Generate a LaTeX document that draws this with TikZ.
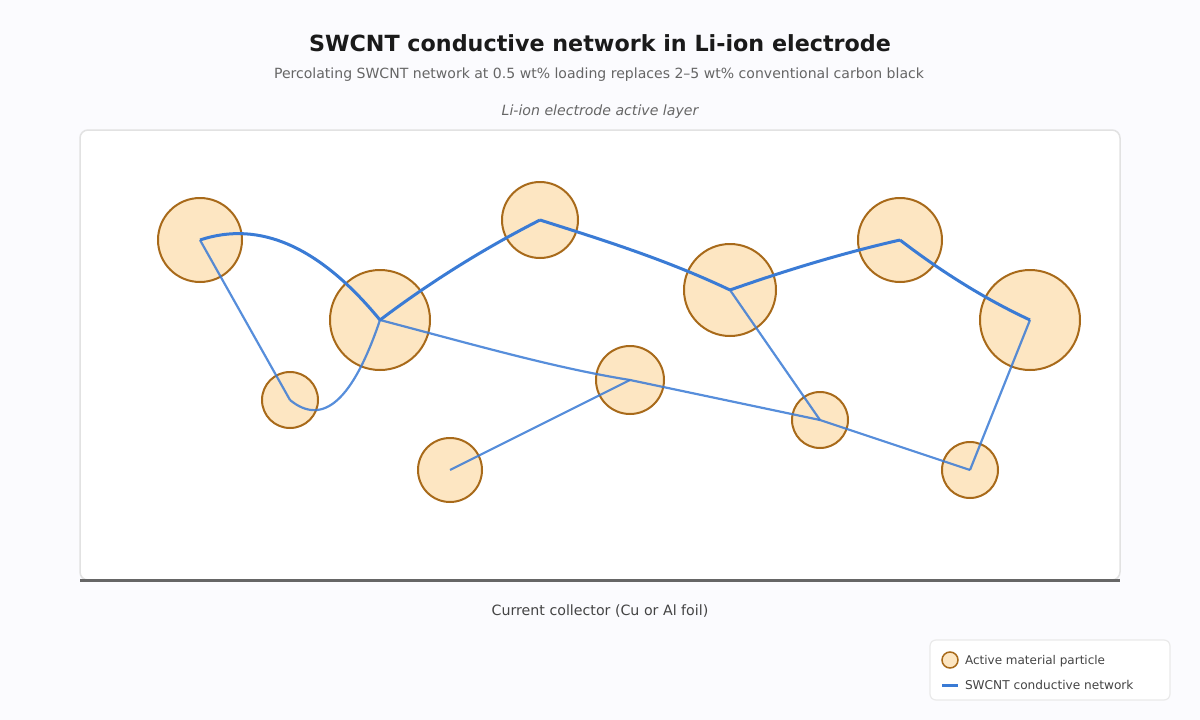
\documentclass[tikz,border=0pt]{standalone}
\usepackage{fontspec}
\setmainfont{DejaVu Sans}
\definecolor{pagebg}{HTML}{FBFBFE}
\definecolor{panelline}{HTML}{E2E2E2}
\definecolor{legendline}{HTML}{EAEAEA}
\definecolor{collector}{HTML}{666666}
\definecolor{partfill}{HTML}{FDE6C2}
\definecolor{partline}{HTML}{A86A1A}
\definecolor{tubeblue}{HTML}{3A7BD5}
\definecolor{titletext}{HTML}{1A1A1A}
\definecolor{softtext}{HTML}{666666}
\definecolor{darktext}{HTML}{444444}
\tikzset{
  particle/.style={circle, draw=partline, fill=partfill, line width=2pt, inner sep=0pt, outer sep=0pt},
  tubethick/.style={draw=tubeblue, line width=3pt, line join=round},
  tubethin/.style={draw=tubeblue, line width=2.2pt, opacity=0.85, line join=round},
  label/.style={anchor=base, inner sep=0pt, outer sep=0pt},
}
\begin{document}
\begin{tikzpicture}[x=1pt,y=-1pt]
\useasboundingbox (0,0) rectangle (1200,720);
\fill [pagebg] (0,0) rectangle (1200,720);
\node [label, text=titletext, font=\fontsize{22.25}{26}\selectfont\bfseries] (title) at (600,51) {SWCNT conductive network in Li-ion electrode};
\node [label, text=softtext, font=\fontsize{14.05}{17}\selectfont] (subtitle) at (599,78) {Percolating SWCNT network at 0.5 wt\% loading replaces 2–5 wt\% conventional carbon black};
\node [label, text=softtext, font=\fontsize{14.1}{17}\selectfont\itshape] (layername) at (600,115) {Li-ion electrode active layer};
\draw [panelline, fill=white, line width=1.5pt, rounded corners=8pt] (80,130) rectangle (1120,580);
\coordinate (foilleft) at (80,580);
\coordinate (foilright) at (1120,580);
\draw [collector, line width=3pt] (foilleft) -- (foilright);
\node [label, text=darktext, font=\fontsize{14.2}{17}\selectfont] (foilname) at (600,615) {Current collector (Cu or Al foil)};
% particles
\node [particle, minimum size=84pt] (p1) at (200,240) {};
\node [particle, minimum size=100pt] (p2) at (380,320) {};
\node [particle, minimum size=76pt] (p3) at (540,220) {};
\node [particle, minimum size=92pt] (p4) at (730,290) {};
\node [particle, minimum size=84pt] (p5) at (900,240) {};
\node [particle, minimum size=100pt] (p6) at (1030,320) {};
\node [particle, minimum size=56pt] (p7) at (290,400) {};
\node [particle, minimum size=64pt] (p8) at (450,470) {};
\node [particle, minimum size=68pt] (p9) at (630,380) {};
\node [particle, minimum size=56pt] (p10) at (820,420) {};
\node [particle, minimum size=56pt] (p11) at (970,470) {};
% main tubes
\draw [tubethick] (p1.center) .. controls (260,220) and (320,247) .. (p2.center);
\draw [tubethick] (p2.center) .. controls (433,280) and (487,247) .. (p3.center);
\draw [tubethick] (p3.center) .. controls (603,240) and (667,260) .. (p4.center);
\draw [tubethick] (p4.center) .. controls (787,270) and (843,253) .. (p5.center);
\draw [tubethick] (p5.center) .. controls (943,273) and (987,300) .. (p6.center);
% side tubes
\draw [tubethin] (p1.center) -- (p7.center);
\draw [tubethin] (p7.center) .. controls (323,427) and (353,400) .. (p2.center);
\draw [tubethin] (p2.center) .. controls (475,345) and (555,368) .. (p9.center);
\draw [tubethin] (p9.center) -- (p10.center);
\draw [tubethin] (p8.center) -- (p9.center);
\draw [tubethin] (p4.center) -- (p10.center);
\draw [tubethin] (p10.center) -- (p11.center);
\draw [tubethin] (p11.center) -- (p6.center);
% legend
\draw [legendline, fill=white, line width=1.2pt, rounded corners=6pt] (930,640) rectangle (1170,700);
\node [particle, minimum size=16pt, line width=1.5pt] (keypart) at (950,660) {};
\node [label, anchor=base west, text=darktext, font=\fontsize{12}{14}\selectfont] (keyparttext) at (965,664) {Active material particle};
\coordinate (keya) at (942,685);
\coordinate (keyb) at (958,685);
\draw [tubeblue, line width=3pt] (keya) -- (keyb);
\node [label, anchor=base west, text=darktext, font=\fontsize{12.15}{14}\selectfont] (keytubetext) at (965,689) {SWCNT conductive network};
\end{tikzpicture}
\end{document}
